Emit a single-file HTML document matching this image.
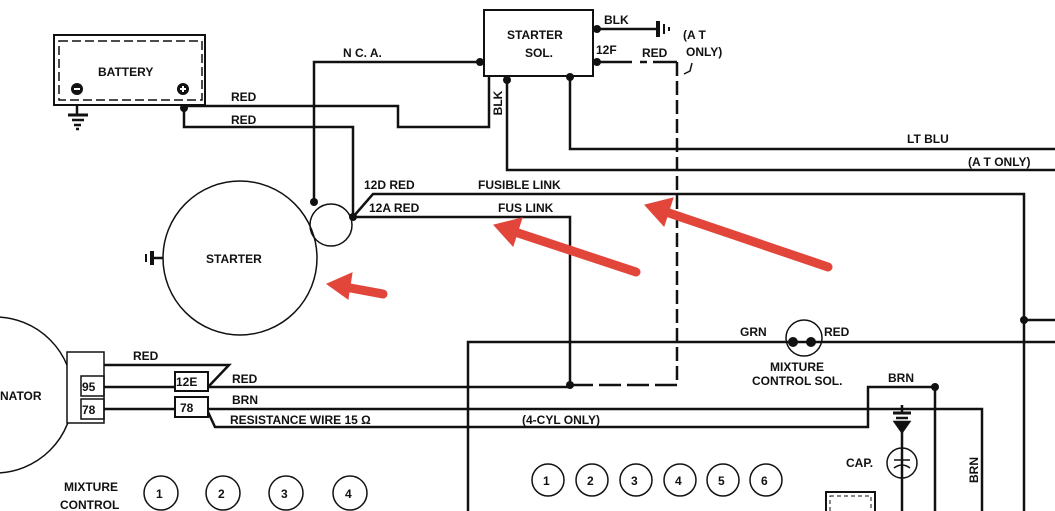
<!DOCTYPE html>
<html><head><meta charset="utf-8"><style>
html,body{margin:0;padding:0;background:#fff;}
svg{display:block;}
text{font-family:"Liberation Sans",sans-serif;font-size:12px;font-weight:bold;fill:#111;}
</style></head><body>
<svg width="1055" height="511" viewBox="0 0 1055 511" xmlns="http://www.w3.org/2000/svg">
<g stroke="#111" stroke-width="2.5" fill="none">
<!-- battery -->
<rect x="54" y="35" width="151" height="70" stroke-width="2"/>
<rect x="59" y="41" width="143" height="59" stroke-width="1.5" stroke-dasharray="9,4"/>
<line x1="77" y1="105" x2="77" y2="115"/>
<line x1="68" y1="115" x2="88" y2="115" stroke-width="3"/>
<line x1="72" y1="120" x2="84" y2="120"/>
<line x1="74" y1="125" x2="81" y2="125"/>
<line x1="76" y1="129" x2="79" y2="129"/>
<polyline points="184,106 398,106 398,127 489,127 489,76"/>
<polyline points="184,108 184,127 353,127 353,217"/>
<polyline points="480,62 314,62 314,202"/>
<!-- starter -->
<circle cx="240" cy="258" r="77" stroke-width="1.5"/>
<circle cx="331" cy="225" r="21" stroke-width="1.5"/>
<line x1="152" y1="251" x2="152" y2="265" stroke-width="4"/>
<line x1="146" y1="254" x2="146" y2="262" stroke-width="2"/>
<line x1="152" y1="258" x2="163" y2="258"/>
<polyline points="353,217 373,194 1024,194 1024,511"/>
<polyline points="353,217 570,217 570,385"/>
<line x1="1024" y1="320" x2="1055" y2="320"/>
<!-- solenoid -->
<rect x="484" y="10" width="109" height="66" stroke-width="2"/>
<polyline points="597,29 657,29"/>
<line x1="658" y1="21" x2="658" y2="37" stroke-width="4"/>
<line x1="664" y1="24" x2="664" y2="34" stroke-width="2"/>
<line x1="669" y1="27" x2="669" y2="31" stroke-width="2"/>
<line x1="597" y1="62" x2="632" y2="62"/>
<line x1="640" y1="62" x2="647" y2="62"/>
<polyline points="653,62 677,62"/>
<line x1="677" y1="62" x2="677" y2="385" stroke-dasharray="14,5"/>
<line x1="677" y1="385" x2="572" y2="385" stroke-dasharray="22,6"/>
<polyline points="692,63 690,71 684,74" stroke-width="1.5"/>
<polyline points="507,80 507,170 1055,170"/>
<polyline points="570,77 570,149 1055,149"/>
<!-- alternator -->
<circle cx="-5" cy="395" r="78" stroke-width="1.5"/>
<rect x="67" y="352" width="37" height="71" stroke-width="1.5" fill="#fff"/>
<rect x="81" y="376" width="23" height="20" stroke-width="1.5"/>
<rect x="81" y="399" width="23" height="20" stroke-width="1.5"/>
<polyline points="104,365 229,365 209,386"/>
<rect x="175" y="372" width="33" height="19" stroke-width="2"/>
<rect x="175" y="397" width="33" height="20" stroke-width="2"/>
<line x1="104" y1="387" x2="175" y2="387"/>
<line x1="104" y1="409" x2="175" y2="409"/>
<line x1="208" y1="387" x2="570" y2="387"/>
<polyline points="208,409 982,409 982,511"/>
<polyline points="208,412 215,427 868,427 868,387 935,387 935,511"/>
<!-- big box -->
<polyline points="468,511 468,342 1055,342"/>
<circle cx="804" cy="338" r="18" stroke-width="1.5"/>
<!-- cap -->
<line x1="902" y1="405" x2="902" y2="413"/>
<line x1="893" y1="413" x2="911" y2="413" stroke-width="3"/>
<line x1="896" y1="418" x2="908" y2="418"/>
<polygon points="895,422 909,422 902,432" fill="#111"/>
<line x1="902" y1="432" x2="902" y2="511"/>
<circle cx="902" cy="463" r="15" stroke-width="1.5"/>
<line x1="894" y1="460" x2="910" y2="460" stroke-width="1.5"/>
<path d="M894 468 Q902 462 910 468" stroke-width="1.5"/>
<rect x="826" y="492" width="49" height="30" stroke-width="2"/>
<rect x="830" y="496" width="41" height="26" stroke-width="1" stroke-dasharray="4,3"/>
<!-- numbered circles -->
<g stroke-width="1.5">
<circle cx="548" cy="480" r="16"/><circle cx="592" cy="480" r="16"/><circle cx="636" cy="480" r="16"/>
<circle cx="680" cy="480" r="16"/><circle cx="723" cy="480" r="16"/><circle cx="766" cy="480" r="16"/>
<circle cx="161" cy="493" r="17"/><circle cx="223" cy="493" r="17"/><circle cx="286" cy="493" r="17"/><circle cx="350" cy="493" r="17"/>
</g>
</g>
<g fill="#111">
<circle cx="77" cy="89" r="6"/><circle cx="183" cy="89" r="6"/>
<circle cx="184" cy="108" r="4"/><circle cx="480" cy="62" r="4"/><circle cx="314" cy="202" r="4"/>
<circle cx="353" cy="217" r="4"/><circle cx="597" cy="29" r="4"/><circle cx="597" cy="62" r="4"/>
<circle cx="507" cy="80" r="4"/><circle cx="570" cy="77" r="4"/><circle cx="570" cy="385" r="4"/>
<circle cx="1024" cy="320" r="4"/><circle cx="793" cy="342" r="5"/><circle cx="811" cy="342" r="5"/>
<circle cx="935" cy="387" r="4"/>
</g>
<g fill="#fff" stroke="none">
<rect x="74" y="88" width="6" height="2"/><rect x="180" y="88" width="6" height="2"/><rect x="182" y="86" width="2" height="6"/>
</g>
<text x="98" y="76">BATTERY</text>
<text x="231" y="101">RED</text>
<text x="231" y="124">RED</text>
<text x="343" y="57">N C. A.</text>
<text x="507" y="39">STARTER</text>
<text x="525" y="57">SOL.</text>
<text x="604" y="24" font-size="11">BLK</text>
<text x="596" y="54" font-size="11">12F</text>
<text x="642" y="57">RED</text>
<text x="683" y="39">(A T</text>
<text x="686" y="56">ONLY)</text>
<text font-size="10" text-anchor="middle" transform="translate(502,103) rotate(-90)">BLK</text>
<text x="907" y="143">LT BLU</text>
<text x="968" y="166">(A T ONLY)</text>
<text x="364" y="189">12D  RED</text>
<text x="369" y="212">12A RED</text>
<text x="478" y="189">FUSIBLE  LINK</text>
<text x="498" y="212">FUS  LINK</text>
<text x="206" y="263">STARTER</text>
<text x="0" y="400">NATOR</text>
<text x="82" y="391" font-size="11">95</text>
<text x="82" y="414" font-size="11">78</text>
<text x="133" y="360">RED</text>
<text x="176" y="386" font-size="11">12E</text>
<text x="180" y="412" font-size="11">78</text>
<text x="232" y="383">RED</text>
<text x="232" y="404">BRN</text>
<text x="230" y="424">RESISTANCE WIRE   15 Ω</text>
<text x="522" y="424">(4-CYL ONLY)</text>
<text x="740" y="336">GRN</text>
<text x="824" y="336">RED</text>
<text x="770" y="371">MIXTURE</text>
<text x="752" y="385">CONTROL SOL.</text>
<text x="888" y="382">BRN</text>
<text x="846" y="467">CAP.</text>
<text font-size="10" text-anchor="middle" transform="translate(978,470) rotate(-90)">BRN</text>
<text x="64" y="491">MIXTURE</text>
<text x="60" y="509">CONTROL</text>
<g font-size="14">
<text x="543" y="485">1</text><text x="587" y="485">2</text><text x="631" y="485">3</text>
<text x="675" y="485">4</text><text x="718" y="485">5</text><text x="761" y="485">6</text>
<text x="156" y="498">1</text><text x="218" y="498">2</text><text x="281" y="498">3</text><text x="345" y="498">4</text>
</g>
<!-- red arrows -->
<g fill="#e2463b" stroke="#e2463b" stroke-width="9" stroke-linecap="round">
<line x1="383" y1="294" x2="345" y2="287"/>
<polygon points="327,284 352,273 348,299" stroke-width="1"/>
<line x1="636" y1="272" x2="515" y2="232"/>
<polygon points="494,225 522,218 513,246" stroke-width="1"/>
<line x1="828" y1="267" x2="666" y2="212"/>
<polygon points="645,205 673,198 664,226" stroke-width="1"/>
</g>
</svg>
</body></html>
